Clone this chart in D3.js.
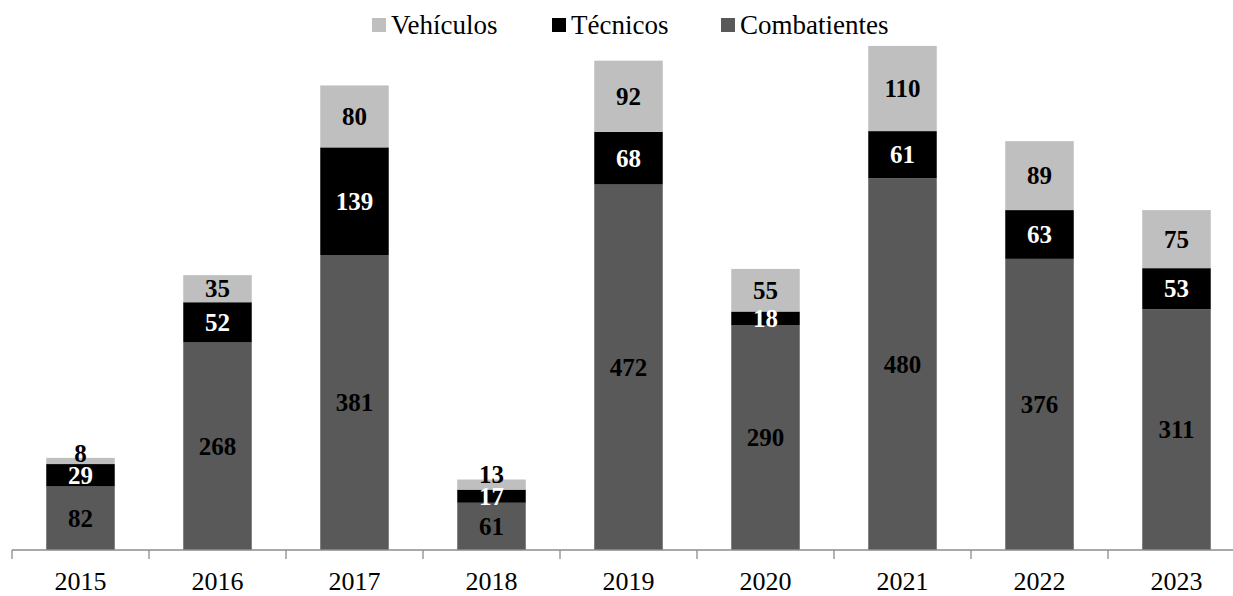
<!DOCTYPE html>
<html>
<head>
<meta charset="utf-8">
<script src="https://cdn.jsdelivr.net/npm/d3@7"></script>
<style>
  body { margin: 0; background: #fff; }
  text { font-family: "Liberation Serif", "Times New Roman", serif; }
</style>
</head>
<body>
<script>
const years = ["2015", "2016", "2017", "2018", "2019", "2020", "2021", "2022", "2023"];
const combatientes = [82, 268, 381, 61, 472, 290, 480, 376, 311];
const tecnicos = [29, 52, 139, 17, 68, 18, 61, 63, 53];
const vehiculos = [8, 35, 80, 13, 92, 55, 110, 89, 75];

const seriesNames = ["Combatientes", "Técnicos", "Vehículos"];
const colors = { "Combatientes": "#595959", "Técnicos": "#000000", "Vehículos": "#bfbfbf" };
const labelColors = { "Combatientes": "#000", "Técnicos": "#fff", "Vehículos": "#000" };

const width = 1233, height = 596;
const baseY = 550;

// table for d3.stack
const table = years.map((y, i) => ({
  year: y,
  "Combatientes": combatientes[i],
  "Técnicos": tecnicos[i],
  "Vehículos": vehiculos[i]
}));

const stacked = d3.stack().keys(seriesNames)(table);

const x = d3.scaleBand()
  .domain(years)
  .range([12, 12 + 137 * years.length])
  .paddingInner(0.5)
  .paddingOuter(0.25);

const y = d3.scaleLinear()
  .domain([0, 700])
  .range([baseY, 8]);

const svg = d3.select("body")
  .append("svg")
  .attr("width", width)
  .attr("height", height);

// bars
const layer = svg.append("g")
  .selectAll("g")
  .data(stacked)
  .join("g")
    .attr("fill", d => colors[d.key]);

layer.selectAll("rect")
  .data(d => d)
  .join("rect")
    .attr("x", d => x(d.data.year))
    .attr("y", d => y(d[1]))
    .attr("width", x.bandwidth())
    .attr("height", d => y(d[0]) - y(d[1]));

// labels, centred in each segment; top label pushed up if it would hit the one below
const labelCentre = {};
stacked.forEach(s => {
  s.forEach(d => {
    let c = (y(d[0]) + y(d[1])) / 2;
    const below = labelCentre[d.data.year];
    if (below !== undefined && c > below - 22) c = below - 22;
    labelCentre[d.data.year] = c;
    d.labelY = c;
  });
});

svg.append("g")
  .selectAll("g")
  .data(stacked)
  .join("g")
    .attr("fill", d => labelColors[d.key])
  .selectAll("text")
  .data(d => d)
  .join("text")
    .attr("x", d => x(d.data.year) + x.bandwidth() / 2)
    .attr("y", d => d.labelY + 8.5)
    .attr("text-anchor", "middle")
    .attr("font-size", 25)
    .attr("font-weight", "bold")
    .text(d => d[1] - d[0]);

// axis
const axis = svg.append("g").attr("stroke", "#8c8c8c").attr("stroke-width", 1.3);
axis.append("line")
  .attr("x1", x.range()[0]).attr("x2", x.range()[1])
  .attr("y1", baseY).attr("y2", baseY);

axis.selectAll("line.tick")
  .data(years.concat(["end"]))
  .join("line")
    .attr("class", "tick")
    .attr("x1", (d, i) => x.range()[0] + i * x.step())
    .attr("x2", (d, i) => x.range()[0] + i * x.step())
    .attr("y1", baseY)
    .attr("y2", baseY + 9);

svg.append("g")
  .selectAll("text")
  .data(years)
  .join("text")
    .attr("x", d => x(d) + x.bandwidth() / 2)
    .attr("y", 590)
    .attr("text-anchor", "middle")
    .attr("font-size", 26)
    .attr("fill", "#000")
    .text(d => d);

// legend
const legendItems = [
  { name: "Vehículos", x: 372 },
  { name: "Técnicos", x: 552 },
  { name: "Combatientes", x: 721 }
];
const legend = svg.append("g")
  .selectAll("g")
  .data(legendItems)
  .join("g")
    .attr("transform", d => "translate(" + d.x + ",0)");

legend.append("rect")
  .attr("y", 18)
  .attr("width", 14)
  .attr("height", 14)
  .attr("fill", d => colors[d.name]);

legend.append("text")
  .attr("x", 19)
  .attr("y", 34)
  .attr("font-size", 27)
  .attr("fill", "#000")
  .text(d => d.name);
</script>
</body>
</html>
